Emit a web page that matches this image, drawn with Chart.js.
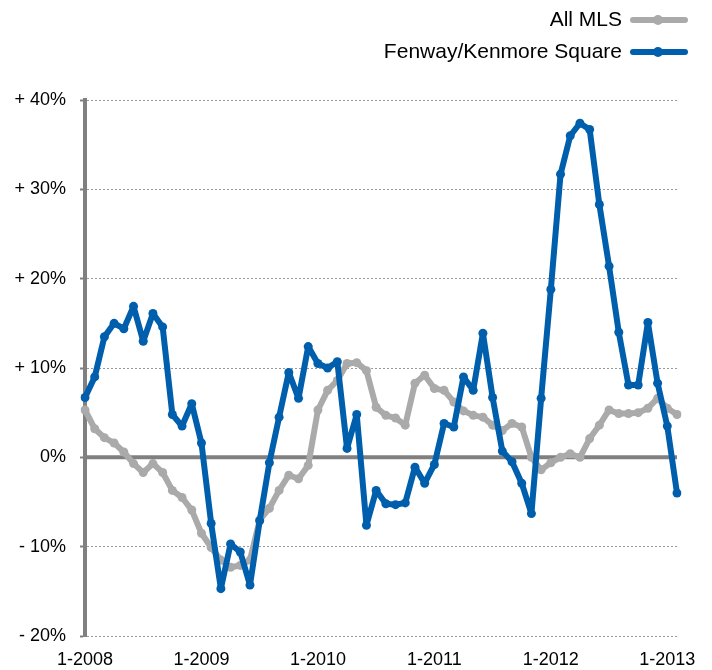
<!DOCTYPE html>
<html>
<head>
<meta charset="utf-8">
<script src="https://cdn.jsdelivr.net/npm/chart.js@4"></script>
<style>
  body { margin: 0; background: #fff; }
  #wrap { width: 712px; height: 670px; }
</style>
</head>
<body>
<div id="wrap"><canvas id="lineChart" width="712" height="670"></canvas></div>
<script>
// months Jan 2008 .. Feb 2013, shown as "M-YYYY"
const firstYear = 2008;
const monthCount = 62;
const months = [];
for (let i = 0; i < monthCount; i++) {
  months.push((i % 12 + 1) + "-" + (firstYear + Math.floor(i / 12)));
}

const seriesNames = ["All MLS", "Fenway/Kenmore Square"];

// year-over-year change, %
const allMls = [
  5.3, 3.2, 2.2, 1.6, 0.6, -0.7, -1.7, -0.7, -1.7, -3.7, -4.5, -5.9,
  -8.5, -10.1, -11.5, -12.3, -12.1, -11.5, -7.0, -5.7, -3.7, -2.0, -2.4, -0.9,
  5.3, 7.5, 8.6, 10.5, 10.6, 9.7, 5.6, 4.7, 4.4, 3.6, 8.3, 9.2,
  7.7, 7.5, 6.2, 5.2, 4.7, 4.5, 3.6, 3.0, 3.8, 3.4, 0.0, -1.4,
  -0.6, 0.0, 0.4, 0.0, 2.1, 3.6, 5.3, 4.9, 4.9, 5.0, 5.5, 6.6,
  5.5, 4.8,
];

const fenway = [
  6.7, 9.0, 13.5, 15.0, 14.4, 16.9, 13.0, 16.1, 14.6, 4.8, 3.5, 6.0,
  1.6, -7.4, -14.7, -9.7, -10.6, -14.3, -7.1, -0.6, 4.5, 9.5, 6.6, 12.4,
  10.5, 10.0, 10.7, 1.0, 4.8, -7.6, -3.7, -5.2, -5.3, -5.1, -1.1, -2.9,
  -0.8, 3.8, 3.4, 9.0, 7.5, 13.9, 6.7, 0.7, -0.5, -2.9, -6.3, 6.6,
  18.8, 31.7, 36.0, 37.4, 36.7, 28.3, 21.4, 14.0, 8.1, 8.1, 15.1, 8.3,
  3.5, -4.0,
];

const yMin = -20;
const yMax = 40;
const yStep = 10;

const grayColor = "#aaaaaa";
const blueColor = "#005fad";
const fontFamily = "'Liberation Sans', Arial, sans-serif";

// thick zero line + stacked legend at the top right
const extras = {
  id: "extras",
  beforeDatasetsDraw(chart) {
    const { ctx, chartArea, scales } = chart;
    const y0 = scales.y.getPixelForValue(0);
    ctx.save();
    ctx.strokeStyle = "#808080";
    ctx.lineWidth = 4;
    ctx.beginPath();
    ctx.moveTo(chartArea.left, y0);
    ctx.lineTo(chartArea.right, y0);
    ctx.stroke();
    ctx.restore();
  },
  afterDraw(chart) {
    const ctx = chart.ctx;
    const colors = [grayColor, blueColor];
    const rows = [20, 52];
    ctx.save();
    ctx.font = "21px " + fontFamily;
    ctx.textAlign = "right";
    ctx.textBaseline = "middle";
    seriesNames.forEach((name, i) => {
      const y = rows[i];
      ctx.fillStyle = "#000";
      ctx.fillText(name, 622, y);
      ctx.strokeStyle = colors[i];
      ctx.lineWidth = 6;
      ctx.lineCap = "round";
      ctx.beginPath();
      ctx.moveTo(633, y);
      ctx.lineTo(685, y);
      ctx.stroke();
      ctx.fillStyle = colors[i];
      ctx.beginPath();
      ctx.arc(658, y, 5, 0, Math.PI * 2);
      ctx.fill();
    });
    ctx.restore();
  },
};

const ctx = document.getElementById("lineChart");

new Chart(ctx, {
  type: "line",
  data: {
    labels: months,
    datasets: [
      {
        label: seriesNames[1],
        data: fenway,
        borderColor: blueColor,
        backgroundColor: blueColor,
        borderWidth: 6,
        pointRadius: 4.5,
        pointBorderWidth: 0,
        borderCapStyle: "round",
        borderJoinStyle: "round",
        tension: 0,
      },
      {
        label: seriesNames[0],
        data: allMls,
        borderColor: grayColor,
        backgroundColor: grayColor,
        borderWidth: 6,
        pointRadius: 4.5,
        pointBorderWidth: 0,
        borderCapStyle: "round",
        borderJoinStyle: "round",
        tension: 0,
      },
    ],
  },
  options: {
    responsive: false,
    animation: false,
    layout: { padding: { top: 100, right: 35, left: 0, bottom: 0 } },
    plugins: {
      legend: { display: false },
      tooltip: { enabled: false },
    },
    scales: {
      x: {
        offset: false,
        border: { display: false, dash: [3, 3] },
        grid: {
          drawTicks: false,
          lineWidth: 1,
          color: (c) => {
            if (c.index === monthCount - 1) return "#9a9a9a";
            return c.index % 12 === 0 && c.index > 0 ? "#d4d4d4" : "rgba(0,0,0,0)";
          },
        },
        ticks: {
          autoSkip: false,
          maxRotation: 0,
          padding: 13,
          color: "#000",
          font: { family: fontFamily, size: 18 },
          callback: (v, i) => (i % 12 === 0 ? months[i] : null),
        },
        afterFit: (scale) => { scale.height = 34; },
      },
      y: {
        min: yMin,
        max: yMax,
        border: { display: true, color: "#808080", width: 4, dash: [2, 2] },
        grid: {
          color: (c) => (c.tick && c.tick.value === 0 ? "rgba(0,0,0,0)" : "#9a9a9a"),
          lineWidth: 1,
          drawTicks: true,
          tickLength: 5,
          tickColor: "#808080",
          tickWidth: 2,
        },
        ticks: {
          stepSize: yStep,
          padding: 14,
          color: "#000",
          font: { family: fontFamily, size: 18 },
          callback: (v) => (v > 0 ? "+ " + v + "%" : v < 0 ? "- " + Math.abs(v) + "%" : "0%"),
        },
        afterFit: (scale) => { scale.width = 85; },
      },
    },
  },
  plugins: [extras],
});
</script>
</body>
</html>
